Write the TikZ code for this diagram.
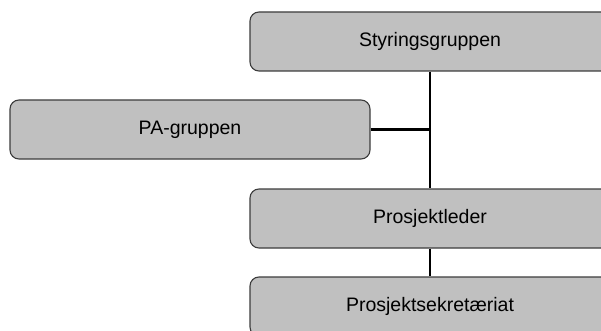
\documentclass[tikz,border=0pt]{standalone}
\usepackage{fontspec}
\setmainfont{Liberation Sans}
\definecolor{boxfill}{HTML}{C0C0C0}
\definecolor{boxline}{HTML}{3C3C3C}
\begin{document}
\begin{tikzpicture}[x=1pt,y=-1pt,
  orgbox/.style={draw=boxline, line width=1.1pt, fill=boxfill, rounded corners=9pt,
    minimum width=360pt, minimum height=59pt, inner sep=0pt,
    font=\fontsize{19.5}{22}\selectfont},
  link/.style={draw=black, line width=2.2pt}]
  \useasboundingbox (0,0) rectangle (601,331);
  \clip (0,0) rectangle (601,331);
  % organisation boxes
  \node[orgbox] (sty) at (430,41.5) {Styringsgruppen};
  \node[orgbox] (pa)  at (190,129.5) {PA-gruppen};
  \node[orgbox] (pl)  at (430,218.5) {Prosjektleder};
  \node[orgbox] (ps)  at (430,306.5) {Prosjektsekretæriat};
  % reporting lines
  \coordinate (jn) at (pa.east -| sty.south);
  \draw[link] (sty.south) -- (pl.north);
  \draw[link] (pa.east) -- (jn);
  \draw[link] (pl.south) -- (ps.north);
\end{tikzpicture}
\end{document}
